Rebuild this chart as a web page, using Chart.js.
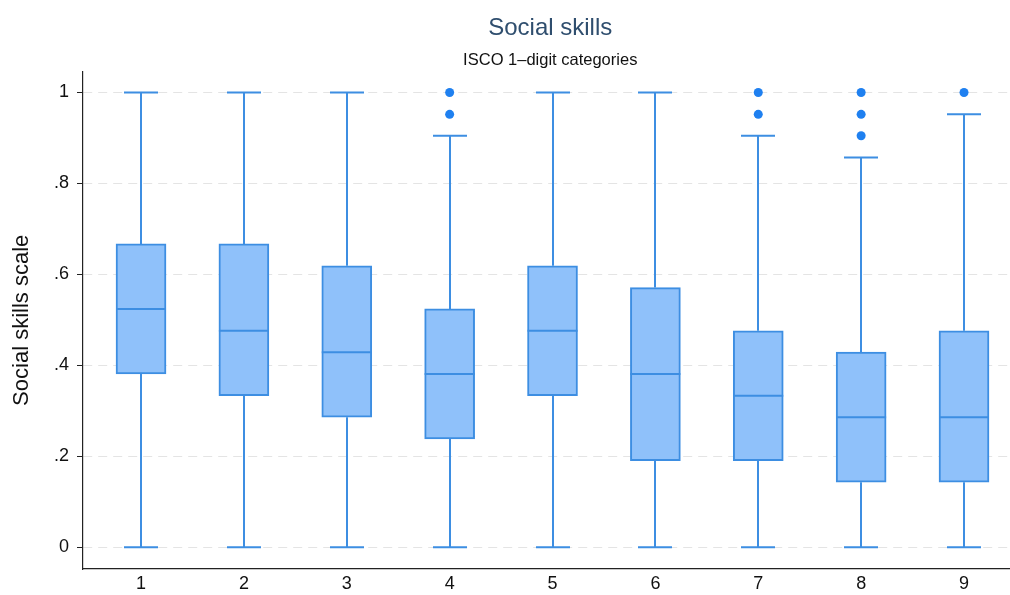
<!DOCTYPE html>
<html>
<head>
<meta charset="utf-8">
<script src="https://cdn.jsdelivr.net/npm/chart.js@4.4.1/dist/chart.umd.min.js"></script>
<style>
  html, body { margin: 0; padding: 0; background: #fff; overflow: hidden; }
  #wrap { width: 1022px; height: 595px; }
</style>
</head>
<body>
<div id="wrap"><canvas id="c" width="1022" height="595"></canvas></div>
<script>
// ISCO 1-digit occupation groups
const categories = [1, 2, 3, 4, 5, 6, 7, 8, 9];
const xTickLabels = ['1', '2', '3', '4', '5', '6', '7', '8', '9'];

// Box-plot summary of the social skills scale per group
const whiskerLow  = [0, 0, 0, 0, 0, 0, 0, 0, 0];
const q1          = [0.381, 0.333, 0.286, 0.238, 0.333, 0.190, 0.190, 0.143, 0.143];
const median      = [0.524, 0.476, 0.429, 0.381, 0.476, 0.381, 0.333, 0.286, 0.286];
const q3          = [0.667, 0.667, 0.619, 0.524, 0.619, 0.571, 0.476, 0.429, 0.476];
const whiskerHigh = [1.000, 1.000, 1.000, 0.905, 1.000, 1.000, 0.905, 0.857, 0.952];

// Outside values (group, value)
const outlierCat = [4, 4, 7, 7, 8, 8, 8, 9];
const outlierVal = [1.000, 0.952, 1.000, 0.952, 1.000, 0.952, 0.905, 1.000];

// Y axis ticks
const yTicks = [0, 0.2, 0.4, 0.6, 0.8, 1];
const yTickLabels = ['0', '.2', '.4', '.6', '.8', '1'];

const FONT = "'Liberation Sans', Arial, Helvetica, sans-serif";
const LINE = '#3d8ee2';
const FILL = '#8fc1fa';
const DOT  = '#1f80f0';

// Whiskers, caps and median lines, positioned through the chart scales
const boxWhiskers = {
  id: 'boxWhiskers',
  beforeDatasetsDraw(chart) {
    const { ctx, scales: { x, y } } = chart;
    const capHalf = 17;
    ctx.save();
    ctx.strokeStyle = LINE;
    ctx.lineWidth = 2;
    categories.forEach((c, i) => {
      const px = Math.round(x.getPixelForValue(c));
      const yHi = y.getPixelForValue(whiskerHigh[i]);
      const yQ3 = y.getPixelForValue(q3[i]);
      const yQ1 = y.getPixelForValue(q1[i]);
      const yLo = y.getPixelForValue(whiskerLow[i]);
      ctx.beginPath();
      ctx.moveTo(px, yHi); ctx.lineTo(px, yQ3);
      ctx.moveTo(px, yQ1); ctx.lineTo(px, yLo);
      ctx.moveTo(px - capHalf, yHi); ctx.lineTo(px + capHalf, yHi);
      ctx.moveTo(px - capHalf, yLo); ctx.lineTo(px + capHalf, yLo);
      ctx.stroke();
    });
    ctx.restore();
  },
  afterDatasetsDraw(chart) {
    const { ctx, scales: { y } } = chart;
    const bars = chart.getDatasetMeta(0).data;
    ctx.save();
    ctx.strokeStyle = LINE;
    ctx.lineWidth = 2;
    bars.forEach((bar, i) => {
      const py = y.getPixelForValue(median[i]);
      ctx.beginPath();
      ctx.moveTo(bar.x - bar.width / 2, py);
      ctx.lineTo(bar.x + bar.width / 2, py);
      ctx.stroke();
    });
    ctx.restore();
  }
};

new Chart(document.getElementById('c'), {
  type: 'bar',
  data: {
    datasets: [
      {
        label: 'Interquartile range',
        data: categories.map((c, i) => ({ x: c, y: [q1[i], q3[i]] })),
        backgroundColor: FILL,
        borderColor: LINE,
        borderWidth: 2,
        borderSkipped: false,
        barThickness: 50
      },
      {
        type: 'scatter',
        label: 'Outside values',
        data: outlierCat.map((c, i) => ({ x: c, y: outlierVal[i] })),
        backgroundColor: DOT,
        borderWidth: 0,
        pointRadius: 4.5
      }
    ]
  },
  options: {
    responsive: false,
    animation: false,
    devicePixelRatio: 1,
    layout: { padding: 0 },
    plugins: {
      legend: { display: false },
      tooltip: { enabled: false },
      title: {
        display: true,
        fullSize: false,
        text: 'Social skills',
        color: '#2f4e6e',
        font: { family: FONT, size: 24, weight: 'normal' },
        padding: { top: 14, bottom: 2 }
      },
      subtitle: {
        display: true,
        fullSize: false,
        text: 'ISCO 1\u2013digit categories',
        color: '#111',
        font: { family: FONT, size: 16.5, weight: 'normal' },
        padding: { top: 6, bottom: 1 }
      }
    },
    scales: {
      x: {
        type: 'linear',
        offset: false,
        min: 0.436,
        max: 9.52,
        afterBuildTicks(scale) { scale.ticks = categories.map(v => ({ value: v })); },
        afterFit(scale) { scale.height = 26; },
        grid: { display: false, drawTicks: false, offset: false },
        border: { display: true, color: '#222', width: 1.2 },
        ticks: {
          padding: 4,
          color: '#111',
          font: { family: FONT, size: 18 },
          maxRotation: 0,
          callback: (v, i) => xTickLabels[i]
        }
      },
      y: {
        type: 'linear',
        min: -0.048,
        max: 1.046,
        afterBuildTicks(scale) { scale.ticks = yTicks.map(v => ({ value: v })); },
        afterFit(scale) { scale.width = 83; },
        grid: {
          color: '#e4e4e4',
          lineWidth: 1,
          drawTicks: true,
          tickLength: 6,
          tickColor: '#222',
          tickWidth: 1
        },
        border: { display: true, color: '#222', width: 1.2, dash: [9, 6] },
        ticks: {
          padding: 8,
          color: '#111',
          font: { family: FONT, size: 18 },
          callback: (v, i) => yTickLabels[i]
        },
        title: {
          display: true,
          text: 'Social skills scale',
          color: '#111',
          font: { family: FONT, size: 22 },
          padding: { top: 9, bottom: 0 }
        }
      }
    }
  },
  plugins: [boxWhiskers]
});
</script>
</body>
</html>
